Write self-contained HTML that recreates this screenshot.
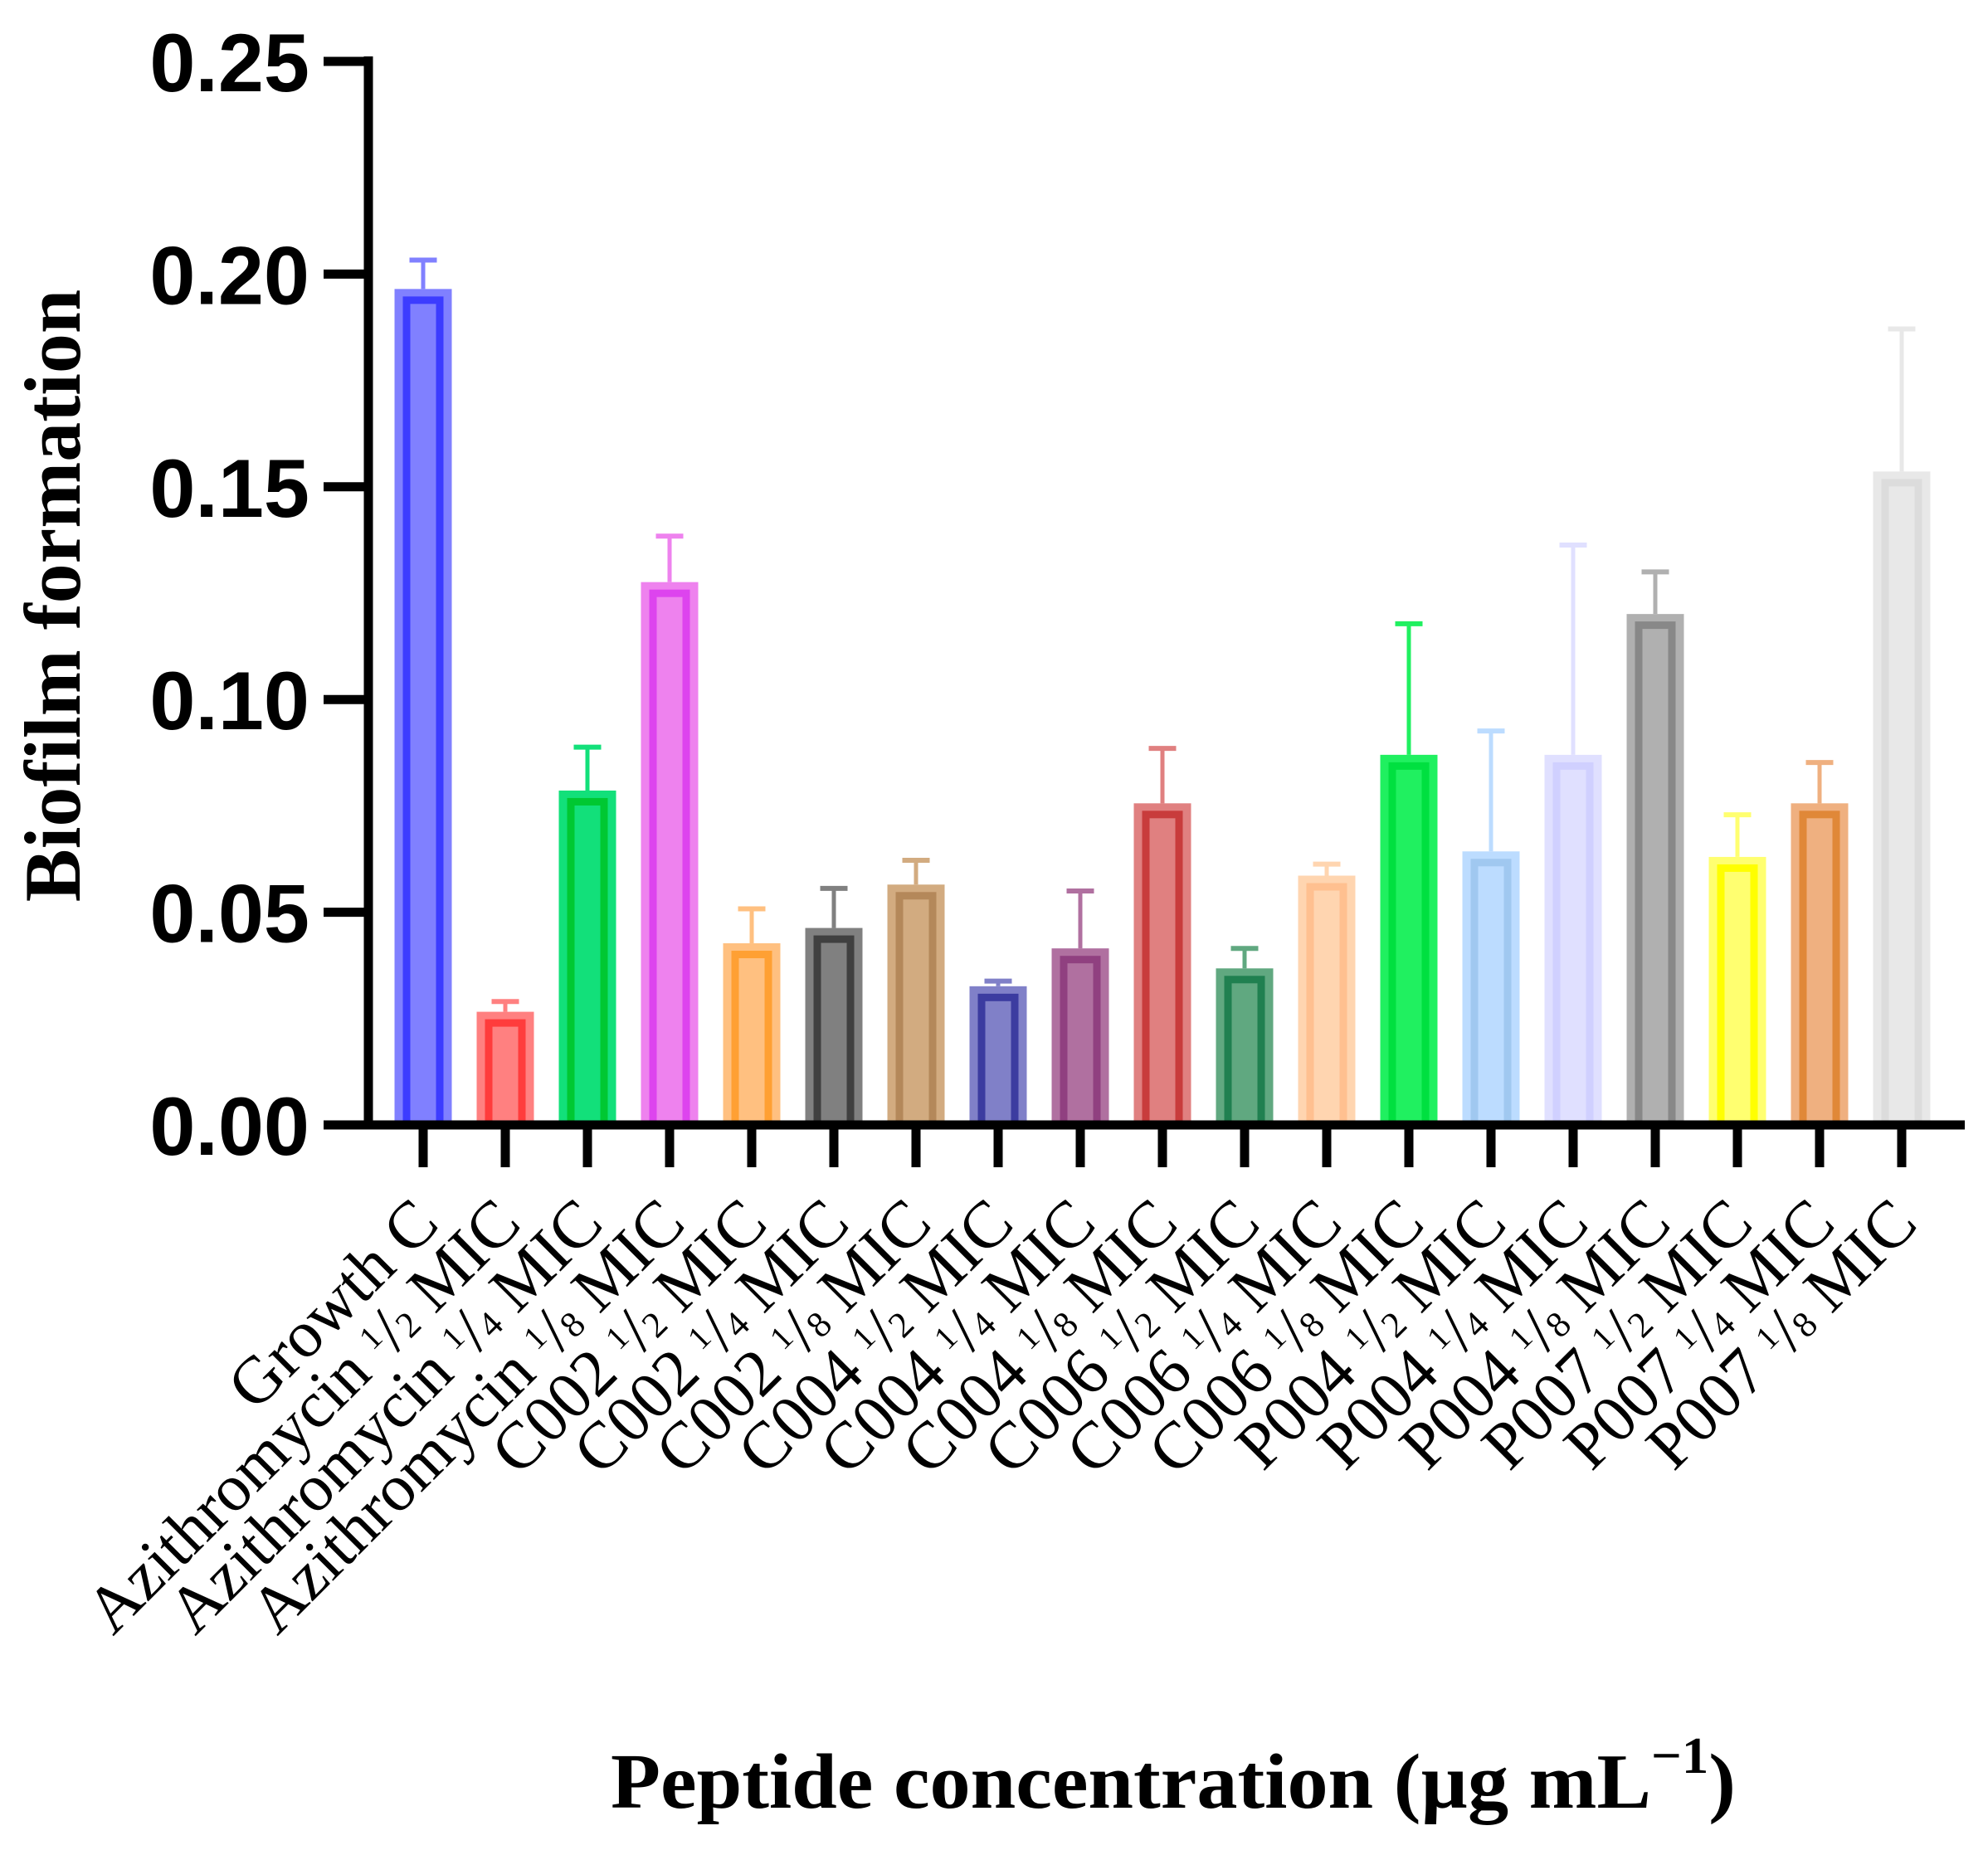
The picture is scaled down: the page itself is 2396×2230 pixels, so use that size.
<!DOCTYPE html>
<html><head><meta charset="utf-8"><style>
html,body{margin:0;padding:0;background:#fff;}
svg{display:block;}
</style></head><body>
<svg id="chart" width="2396" height="2230" viewBox="0 0 2396 2230" xmlns="http://www.w3.org/2000/svg">
<rect width="2396" height="2230" fill="#fff"/>
<g id="bars"></g>
<g id="axes"></g>
<g id="xlabels"></g>
<text transform="translate(96,718) rotate(-90)" text-anchor="middle" font-family="Liberation Serif, serif" font-weight="bold" font-size="96">Biofilm formation</text>
<text x="736" y="2179" font-family="Liberation Serif, serif" font-weight="bold" font-size="94" textLength="1356" lengthAdjust="spacingAndGlyphs">Peptide concentration (µg mL<tspan font-size="62" dy="-42">−1</tspan><tspan dy="42">)</tspan></text>
</svg>
<script>
const categories = ["Growth C","Azithromycin|2","Azithromycin|4","Azithromycin|8","C002|2","C002|4","C002|8","C004|2","C004|4","C004|8","C006|2","C006|4","C006|8","P004|2","P004|4","P004|8","P007|2","P007|4","P007|8"];
const means = [0.1965,0.0266,0.0786,0.1276,0.0427,0.0463,0.0565,0.0326,0.0415,0.0756,0.0368,0.0586,0.087,0.0643,0.087,0.1201,0.063,0.0756,0.1536];
const errTops = [0.2033,0.029,0.0888,0.1384,0.0508,0.0556,0.0622,0.0338,0.055,0.0885,0.0415,0.0613,0.1178,0.0926,0.1363,0.130,0.0729,0.0852,0.1871];
const fills = ["#8080ff","#ff8080","#12e07a","#ee82ee","#ffc080","#808080","#d2ab80","#8080c8","#b070a0","#e08080","#60a880","#ffd5b0","#20f060","#bcdcff","#e0e0ff","#b0b0b0","#ffff70","#efb080","#e8e8e8"];
const strokes = ["#3c3cff","#ff3c3c","#00c832","#dd44ee","#ffa033","#404040","#b4885a","#3c3ca0","#904080","#c83c3c","#208050","#ffc090","#00e040","#a0c8f0","#d0d0ff","#888888","#ffff00","#e08838","#dcdcdc"];
const yTicks = [0,0.05,0.10,0.15,0.20,0.25];
const yTickLabels = ["0.00","0.05","0.10","0.15","0.20","0.25"];

const NS="http://www.w3.org/2000/svg";
const Y0=1356, YPX=5128; // px per unit
const X0=510, DX=99;
function y(v){return Y0 - v*YPX;}
function x(i){return X0 + i*DX;}
function mk(tag,attrs,parent){const e=document.createElementNS(NS,tag);for(const k in attrs)e.setAttribute(k,attrs[k]);parent.appendChild(e);return e;}

const bars=document.getElementById('bars');
const BW=69;
means.forEach((v,i)=>{
  const g=mk('g',{},bars);
  
  
  const cx=x(i), top=y(v);
  const eb=mk('line',{x1:cx,x2:cx,y1:y(errTops[i]),y2:top,stroke:fills[i],'stroke-width':5},g);
  
  
  const cap=mk('line',{x1:cx-16.5,x2:cx+16.5,y1:y(errTops[i]),y2:y(errTops[i]),stroke:fills[i],'stroke-width':6},g);
  
  
  mk('rect',{x:cx-BW/2,y:top,width:BW,height:Y0-top,fill:fills[i]},g);
  mk('rect',{x:cx-BW/2+14.5,y:top+13.5,width:BW-29,height:Math.max(0,Y0-top-13.5),fill:'none',stroke:strokes[i],'stroke-width':9},g);
});

const axes=document.getElementById('axes');
const yl=mk('line',{x1:444,x2:444,y1:68,y2:Y0+5,stroke:'#000','stroke-width':11},axes);


const xl=mk('line',{x1:439,x2:2368,y1:Y0,y2:Y0,stroke:'#000','stroke-width':11},axes);


yTicks.forEach((t,i)=>{
  const tk=mk('line',{x1:390,x2:444,y1:y(t),y2:y(t),stroke:'#000','stroke-width':11},axes);
  
  
  const lb=mk('text',{x:373,y:y(t)+36,'text-anchor':'end','font-family':'Liberation Sans, sans-serif','font-weight':'bold','font-size':99},axes);
  lb.textContent=yTickLabels[i];
  
  
});
categories.forEach((c,i)=>{
  const tk=mk('line',{x1:x(i),x2:x(i),y1:Y0,y2:1407,stroke:'#000','stroke-width':11},axes);
  
  
});

const xlabels=document.getElementById('xlabels');
categories.forEach((c,i)=>{
  const t=mk('text',{transform:`translate(${x(i)+22},1478) rotate(-45)`,'text-anchor':'end','font-family':'Liberation Serif, serif','font-size':80},xlabels);
  
  
  if(c.indexOf('|')<0){t.textContent=c;return;}
  const [name,den]=c.split('|');
  t.appendChild(document.createTextNode(name+' '));
  mk('tspan',{'font-size':40,dy:-22},t).textContent='1';
  mk('tspan',{dy:22},t).textContent='/';
  mk('tspan',{'font-size':44},t).textContent=den;
  t.appendChild(document.createTextNode(' MIC'));
});
</script>
</body></html>
